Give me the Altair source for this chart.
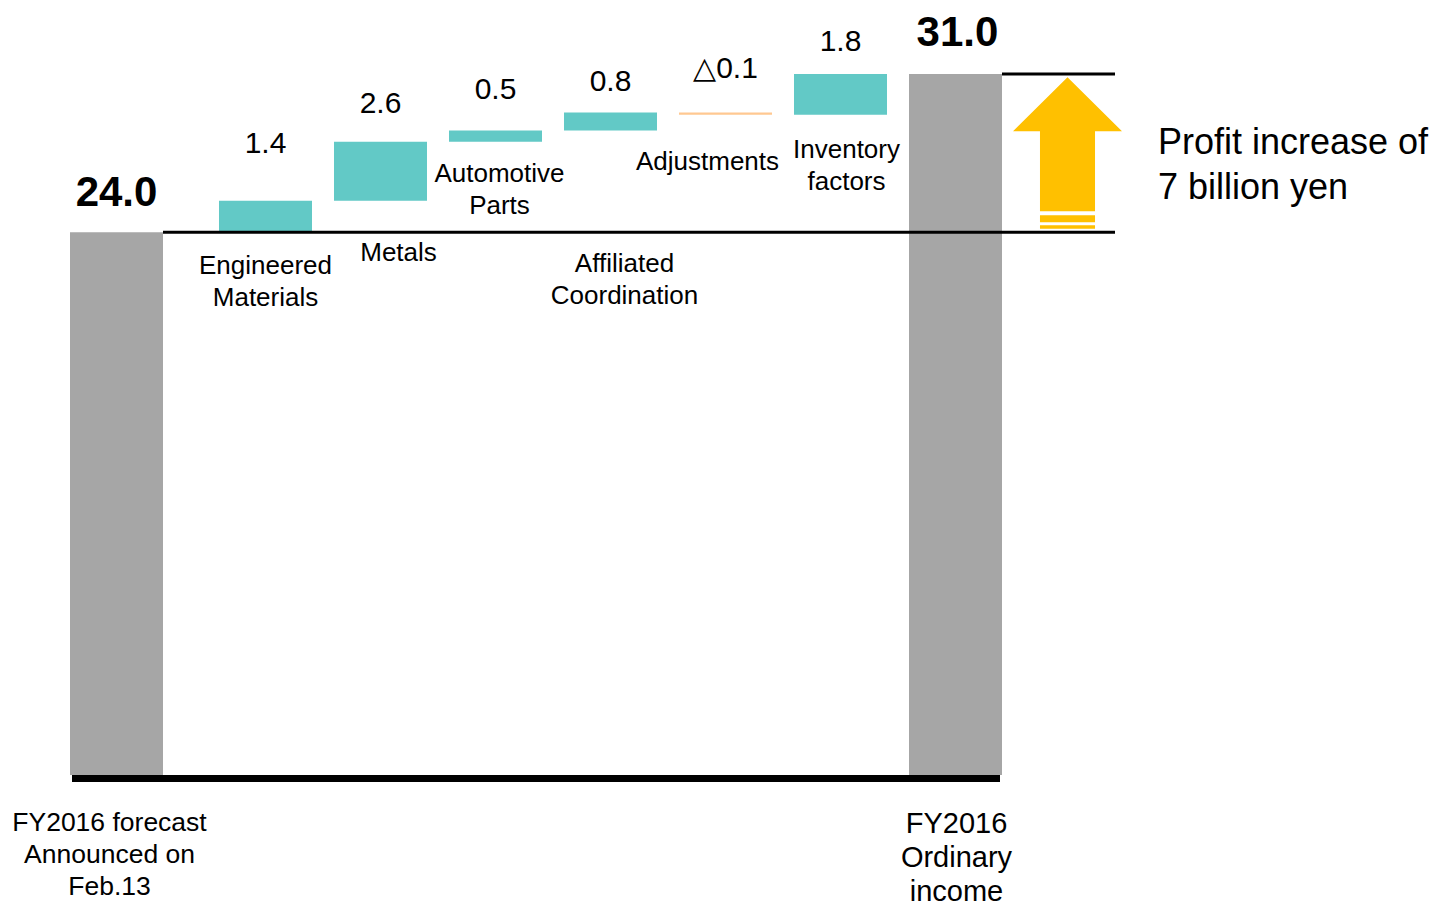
import altair as alt
import pandas as pd

# ---- data ----
start_name = "FY2016 forecast\nAnnounced on\nFeb.13"
start_value = 24.0
step_names = ["Engineered\nMaterials", "Metals", "Automotive\nParts",
              "Affiliated\nCoordination", "Adjustments", "Inventory\nfactors"]
step_values = [1.4, 2.6, 0.5, 0.8, -0.1, 1.8]
end_name = "FY2016\nOrdinary\nincome"
end_value = 31.0
note_text = "Profit increase of\n7 billion yen"

# ---- label layout (annotation placement, not data) ----
# where each step's name sits: under its own bar, or under the start line
step_label_anchor = ["start", "start", "bar", "start", "bar", "bar"]
name_dx = [0, 18, 4, 14, -18, 6]
name_dy = [21, 8, 19, 19, 34, 22]
value_dy = [-48, -29, -32, -21, -34, -23]

# ---- waterfall table ----
rows = [dict(key="k0", name=start_name, lo=0.0, hi=start_value, kind="total",
             label=f"{start_value:.1f}", anchor=0.0)]
run = start_value
for i, (n, v) in enumerate(zip(step_names, step_values)):
    lo, hi = run, run + v
    rows.append(dict(key=f"k{i+1}", name=n, lo=lo, hi=hi,
                     kind="up" if v >= 0 else "down",
                     label=(f"{v:.1f}" if v >= 0 else f"\u25b3{abs(v):.1f}"),
                     anchor=(start_value if step_label_anchor[i] == "start" else min(lo, hi))))
    run = hi
rows.append(dict(key=f"k{len(step_names)+1}", name=end_name, lo=0.0, hi=end_value,
                 kind="total", label=f"{end_value:.1f}", anchor=0.0))
df = pd.DataFrame(rows)
df["top"] = df[["lo", "hi"]].max(axis=1)
keys = list(df["key"])

ydom = [-5.4, 33.92]
yscale = alt.Scale(domain=ydom, nice=False, zero=False)
xenc = alt.X("key:N", sort=keys, axis=None,
             scale=alt.Scale(paddingInner=0.1913, paddingOuter=0))
colors = alt.Color("kind:N", legend=None,
                   scale=alt.Scale(domain=["total", "up", "down"],
                                   range=["#A6A6A6", "#62C9C6", "#FFC891"]))

base = alt.Chart(df)
layers = []

first = base.transform_filter(alt.datum.key == keys[0])
rest = base.transform_filter(alt.datum.key != keys[0])
last = base.transform_filter(alt.datum.key == keys[-1])

FIRST_SHIFT = -34

# bars
layers.append(first.mark_bar(xOffset=FIRST_SHIFT).encode(
    x=xenc, y=alt.Y("lo:Q", scale=yscale, axis=None), y2="hi:Q", color=colors))
layers.append(rest.mark_bar().encode(
    x=xenc, y=alt.Y("lo:Q", scale=yscale, axis=None), y2="hi:Q", color=colors))

one = alt.Chart(pd.DataFrame({"a": [0]}))

# rules
layers.append(one.mark_rule(color="black", strokeWidth=7, yOffset=3.5).encode(
    y=alt.Y(datum=0, scale=yscale, axis=None), x=alt.value(-32), x2=alt.value(896)))
layers.append(one.mark_rule(color="black", strokeWidth=3).encode(
    y=alt.Y(datum=start_value, scale=yscale, axis=None), x=alt.value(59), x2=alt.value(1011)))
layers.append(one.mark_rule(color="black", strokeWidth=3).encode(
    y=alt.Y(datum=end_value, scale=yscale, axis=None), x=alt.value(898), x2=alt.value(1011)))

# arrow
arrow_path = ("M0,-1.394L1,-0.404L0.505,-0.404L0.505,1.064L-0.505,1.064L-0.505,-0.404L-1,-0.404Z"
              "M-0.505,1.138L0.505,1.138L0.505,1.266L-0.505,1.266Z"
              "M-0.505,1.321L0.505,1.321L0.505,1.385L-0.505,1.385Z")
layers.append(one.mark_point(shape=arrow_path, filled=True, fill="#FFC000", size=11881,
                             strokeWidth=0, opacity=1).encode(
    y=alt.Y(datum=(start_value + end_value) / 2, scale=yscale, axis=None),
    x=alt.value(963.5)))

# total values
layers.append(first.mark_text(font="Liberation Sans", fontSize=42, fontWeight="bold",
                              baseline="alphabetic", dy=-26, dx=FIRST_SHIFT,
                              color="black").encode(
    x=xenc, y=alt.Y("top:Q", scale=yscale, axis=None), text="label:N"))
layers.append(last.mark_text(font="Liberation Sans", fontSize=42, fontWeight="bold",
                             baseline="alphabetic", dy=-28, dx=2, color="black").encode(
    x=xenc, y=alt.Y("top:Q", scale=yscale, axis=None), text="label:N"))

# step values and names
for i in range(len(step_names)):
    k = keys[i + 1]
    sel = base.transform_filter(alt.datum.key == k)
    layers.append(sel.mark_text(font="Liberation Sans", fontSize=30, baseline="alphabetic",
                                dy=value_dy[i], color="black").encode(
        x=xenc, y=alt.Y("top:Q", scale=yscale, axis=None), text="label:N"))
    layers.append(sel.mark_text(font="Liberation Sans", fontSize=26, baseline="top",
                                dy=name_dy[i], dx=name_dx[i], lineBreak="\n",
                                lineHeight=32, color="black").encode(
        x=xenc, y=alt.Y("anchor:Q", scale=yscale, axis=None), text="name:N"))

# total names below the baseline
layers.append(first.mark_text(font="Liberation Sans", fontSize=26.5, baseline="top", dy=35,
                              dx=FIRST_SHIFT - 7, lineBreak="\n", lineHeight=32,
                              color="black").encode(
    x=xenc, y=alt.Y("anchor:Q", scale=yscale, axis=None), text="name:N"))
layers.append(last.mark_text(font="Liberation Sans", fontSize=29, baseline="top", dy=35,
                             dx=1, lineBreak="\n", lineHeight=34, color="black").encode(
    x=xenc, y=alt.Y("anchor:Q", scale=yscale, axis=None), text="name:N"))

# note
layers.append(one.mark_text(font="Liberation Sans", fontSize=36, align="left", baseline="top",
                            lineBreak="\n", lineHeight=45, dy=52, color="black").encode(
    y=alt.Y(datum=end_value, scale=yscale, axis=None), x=alt.value(1054),
    text=alt.value(note_text)))

chart = alt.layer(*layers).properties(
    width=898, height=889,
    autosize=alt.AutoSizeParams(type="none"),
    padding={"left": 96, "top": 0, "right": 431, "bottom": 20},
).configure(background="white", view=alt.ViewConfig(stroke=None))

chart.save("out.html", embed_options={"renderer": "svg", "actions": False})
